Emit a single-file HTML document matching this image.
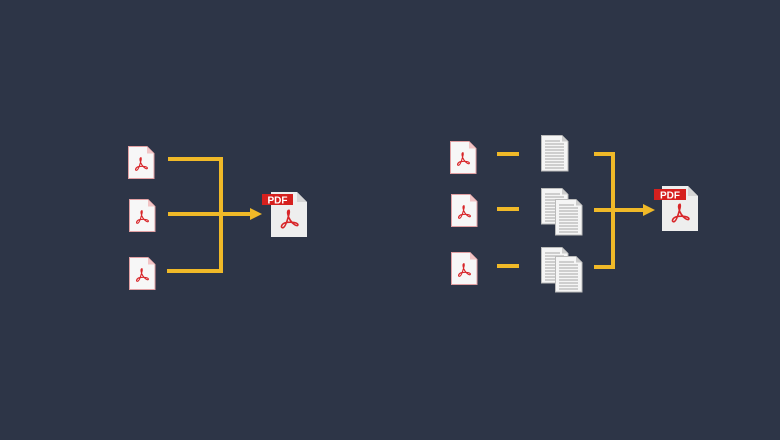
<!DOCTYPE html>
<html><head><meta charset="utf-8"><style>
html,body{margin:0;padding:0;background:#2d3547;}
svg{display:block}
</style></head><body>
<svg width="780" height="440" viewBox="0 0 780 440" xmlns="http://www.w3.org/2000/svg">
<defs>
<g id="acro">
<path d="M0,-7 C-2,-7 -1,-2 1,1 C3,4 6,6 7,5 C8,3 2,2 -3,3 C-6,4 -7,7 -5,7 C-3,7 -1,0 0,-4 C0.5,-6 0,-7 0,-7 Z" fill="none" stroke="#d8262a" stroke-width="1.3"/>
</g>
<g id="sp">
<path d="M0.5,0.5 H19 L26,7.5 V32.5 H0.5 Z" fill="#f7f7f7" stroke="#e2a0a3" stroke-width="1"/>
<path d="M19,0.5 V7.5 H26 Z" fill="#f2c4c5"/>
<use href="#acro" transform="translate(13,18) scale(0.9)"/>
</g>
<g id="bp">
<path d="M0,0 H26 L36,10 V45 H0 Z" fill="#eeeeee"/>
<path d="M26,0 V10 H36 Z" fill="#d6d6d6"/>
<use href="#acro" transform="translate(18,27) scale(1.25)"/>
</g>
<g id="doc">
<path d="M0.5,0.5 H21 L27,6.5 V36 H0.5 Z" fill="#f5f5f5" stroke="#bbbbbb" stroke-width="1"/>
<path d="M21,0.5 V6.5 H27 Z" fill="#cccccc"/>
<g stroke="#a8a8a8" stroke-width="1">
<line x1="4" y1="6" x2="19" y2="6"/><line x1="4" y1="9" x2="23" y2="9"/><line x1="4" y1="12" x2="23" y2="12"/><line x1="4" y1="15" x2="23" y2="15"/><line x1="4" y1="18" x2="23" y2="18"/><line x1="4" y1="21" x2="23" y2="21"/><line x1="4" y1="24" x2="23" y2="24"/><line x1="4" y1="27" x2="23" y2="27"/><line x1="4" y1="30" x2="23" y2="30"/><line x1="4" y1="33" x2="23" y2="33"/>
</g>
</g>
</defs>

<!-- Left -->
<use href="#sp" x="128" y="146"/>
<use href="#sp" x="129" y="199"/>
<use href="#sp" x="129" y="257"/>
<g stroke="#f0b928" stroke-width="4" fill="none">
<polyline points="168,159 221,159 221,271 167,271"/>
<line x1="168" y1="214" x2="252" y2="214"/>
</g>
<polygon points="250,208 262,214 250,220" fill="#f0b928"/>
<use href="#bp" x="271" y="192"/>
<rect x="262" y="194" width="31" height="11" fill="#d6201e"/>
<text x="277.5" y="203.5" text-anchor="middle" font-family="Liberation Sans, sans-serif" font-weight="bold" font-size="10" fill="#fff">PDF</text>

<!-- Right -->
<use href="#sp" x="450" y="141"/>
<use href="#sp" x="451" y="194"/>
<use href="#sp" x="451" y="252"/>
<g stroke="#f0b928" stroke-width="4" fill="none">
<line x1="497" y1="154" x2="519" y2="154"/>
<line x1="497" y1="209" x2="519" y2="209"/>
<line x1="497" y1="266" x2="519" y2="266"/>
<polyline points="594,154 613,154 613,267 594,267"/>
<line x1="594" y1="210" x2="645" y2="210"/>
</g>
<polygon points="643,204 655,210 643,216" fill="#f0b928"/>
<use href="#doc" x="541" y="135"/>
<use href="#doc" x="541" y="188"/>
<use href="#doc" x="555" y="199"/>
<use href="#doc" x="541" y="247"/>
<use href="#doc" x="555" y="256"/>
<use href="#bp" x="662" y="186"/>
<rect x="654" y="189" width="32" height="11" fill="#d6201e"/>
<text x="670" y="198.5" text-anchor="middle" font-family="Liberation Sans, sans-serif" font-weight="bold" font-size="10" fill="#fff">PDF</text>
</svg>
</body></html>
